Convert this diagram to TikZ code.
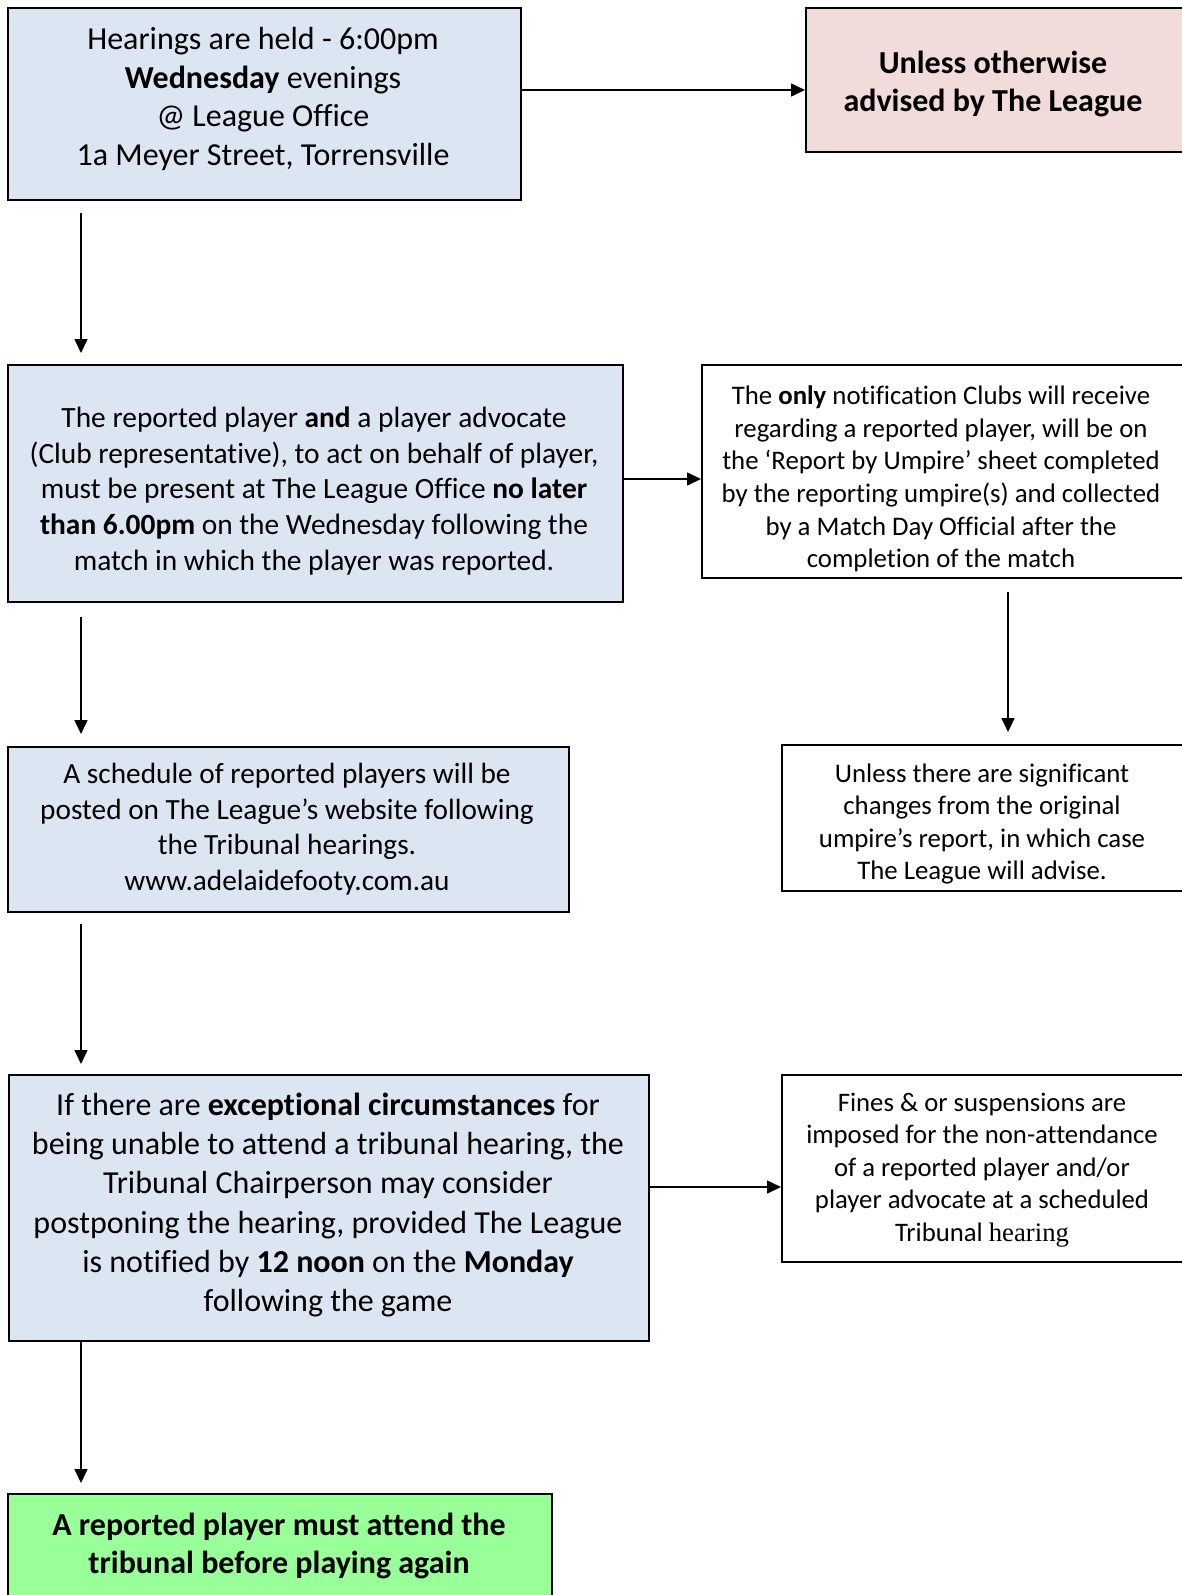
\documentclass[tikz,border=0pt]{standalone}
\usepackage{fontspec}
\setmainfont{Carlito}[Ligatures={NoCommon,NoContextual},RawFeature={-liga;-clig}]
\newfontfamily\serifhear{Liberation Serif}
\usetikzlibrary{arrows.meta}
\definecolor{boxblue}{RGB}{220,230,242}
\definecolor{boxpink}{RGB}{242,220,219}
\definecolor{boxgreen}{RGB}{153,255,153}
\tikzset{
  frame/.style={draw=black, line width=2pt, anchor=north west, inner sep=0pt},
  txt/.style={align=center, inner sep=0pt, text=black},
  arr/.style={line width=1.6pt, -{Triangle[length=14pt,width=13pt]}},
}
\begin{document}
\begin{tikzpicture}[x=1pt,y=-1pt]
\useasboundingbox (0,0) rectangle (1181,1595);
% boxes
\node[frame, fill=boxblue, minimum width=513pt, minimum height=192pt] (b1) at (7,7) {};
\node[frame, fill=boxpink, minimum width=390pt, minimum height=144pt] (b2) at (805,7) {};
\node[frame, fill=boxblue, minimum width=615pt, minimum height=237pt] (b3) at (7,364) {};
\node[frame, fill=white, minimum width=490pt, minimum height=213pt] (b4) at (701,364) {};
\node[frame, fill=white, minimum width=410pt, minimum height=146pt] (b5) at (781,744) {};
\node[frame, fill=boxblue, minimum width=561pt, minimum height=165pt] (b6) at (7,746) {};
\node[frame, fill=boxblue, minimum width=640pt, minimum height=266pt] (b7) at (8,1074) {};
\node[frame, fill=white, minimum width=410pt, minimum height=187pt] (b8) at (781,1074) {};
\node[frame, fill=boxgreen, minimum width=544pt, minimum height=120pt] (b9) at (7,1493) {};
% texts
\node[txt, font=\fontsize{32}{38.7}\selectfont] (t1) at (263,99)
  {Hearings are held - 6:00pm\\\textbf{Wednesday} evenings\\@ League Office\\1a Meyer Street, Torrensville};
\node[txt, font=\fontsize{32}{38.6}\bfseries\selectfont] (t2) at (993,84)
  {Unless otherwise\\advised by The League};
\node[txt, font=\fontsize{29.4}{35.8}\selectfont] (t3) at (314,491)
  {The reported player \textbf{and} a player advocate\\(Club representative), to act on behalf of player,\\must be present at The League Office \textbf{no later}\\\textbf{than 6.00pm} on the Wednesday following the\\match in which the player was reported.};
\begin{scope}
\clip (b4.north west) rectangle ([yshift=-13pt]b4.south east);
\node[txt, font=\fontsize{26.8}{32.7}\selectfont] (t4) at (941,479)
  {The \textbf{only} notification Clubs will receive\\regarding a reported player, will be on\\the ‘Report by Umpire’ sheet completed\\by the reporting umpire(s) and collected\\by a Match Day Official after the\\completion of the match};
\end{scope}
\begin{scope}
\clip (b5.north west) rectangle ([yshift=-13pt]b5.south east);
\node[txt, font=\fontsize{26.8}{32.5}\selectfont] (t5) at (982,824)
  {Unless there are significant\\changes from the original\\umpire’s report, in which case\\The League will advise.};
\end{scope}
\node[txt, font=\fontsize{29.3}{35.5}\selectfont] (t6) at (287,829)
  {A schedule of reported players will be\\posted on The League’s website following\\the Tribunal hearings.\\www.adelaidefooty.com.au};
\node[txt, font=\fontsize{32}{39.3}\selectfont] (t7) at (328,1205)
  {If there are \textbf{exceptional circumstances} for\\being unable to attend a tribunal hearing, the\\Tribunal Chairperson may consider\\postponing the hearing, provided The League\\is notified by \textbf{12 noon} on the \textbf{Monday}\\following the game};
\node[txt, font=\fontsize{26.7}{32.5}\selectfont] (t8) at (982,1170)
  {Fines \& or suspensions are\\imposed for the non-attendance\\of a reported player and/or\\player advocate at a scheduled\\Tribunal {\serifhear hearing}};
\node[txt, font=\fontsize{32}{38.5}\bfseries\selectfont] (t9) at (279,1546)
  {A reported player must attend the\\tribunal before playing again};
% connector helpers
\coordinate (ax) at (81,0);
\coordinate (rx) at (1008,0);
\coordinate (h1) at (0,90);
\coordinate (h2) at (0,479);
\coordinate (h3) at (0,1187);
% connectors
\draw[arr] (b1.east |- h1) -- (b2.west |- h1);
\draw[arr, shorten <=12pt, shorten >=11pt] (b1.south -| ax) -- (b3.north -| ax);
\draw[arr] (b3.east |- h2) -- (b4.west |- h2);
\draw[arr, shorten <=13pt, shorten >=12pt] (b4.south -| rx) -- (b5.north -| rx);
\draw[arr, shorten <=14pt, shorten >=12pt] (b3.south -| ax) -- (b6.north -| ax);
\draw[arr, shorten <=11pt, shorten >=10pt] (b6.south -| ax) -- (b7.north -| ax);
\draw[arr] (b7.east |- h3) -- (b8.west |- h3);
\draw[arr, shorten >=10pt] (b7.south -| ax) -- (b9.north -| ax);
\end{tikzpicture}
\end{document}
